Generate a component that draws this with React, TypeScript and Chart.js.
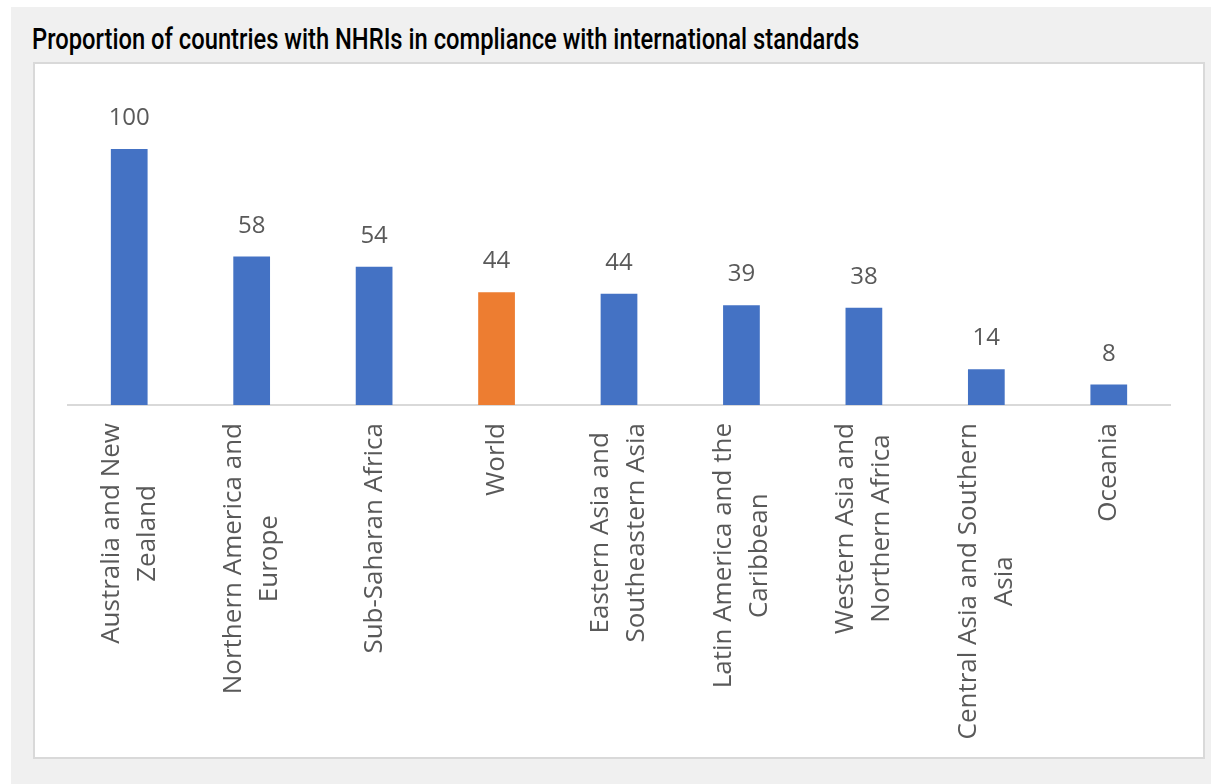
import React, { useEffect, useLayoutEffect, useRef, useState } from "react";
import { Chart, registerables } from "chart.js";

Chart.register(...registerables);

const TITLE = "Proportion of countries with NHRIs in compliance with international standards";

const categories: string[][] = [
  ["Australia and New", "Zealand"],
  ["Northern America and", "Europe"],
  ["Sub-Saharan Africa"],
  ["World"],
  ["Eastern Asia and", "Southeastern Asia"],
  ["Latin America and the", "Caribbean"],
  ["Western Asia and", "Northern Africa"],
  ["Central Asia and Southern", "Asia"],
  ["Oceania"],
];

const values: number[] = [100, 58, 54, 44, 43.5, 39, 38, 14, 8];

const highlightIndex = 3;
const BLUE = "#4472C4";
const ORANGE = "#ED7D31";
const TEXT_GRAY = "#595959";

const labelPlugin = {
  id: "customLabels",
  afterDraw(chart: any) {
    const ctx = chart.ctx;
    const meta = chart.getDatasetMeta(0);
    const xScale = chart.scales.x;
    ctx.save();
    // value labels
    ctx.fillStyle = TEXT_GRAY;
    ctx.font = "24px 'Open Sans'";
    ctx.textAlign = "center";
    ctx.textBaseline = "alphabetic";
    meta.data.forEach((bar: any, i: number) => {
      const v = chart.data.datasets[0].data[i] as number;
      ctx.fillText(String(Math.round(v)), bar.x, bar.y - 24);
    });
    // category labels, rotated, lines centred on each other
    ctx.font = "26px 'Open Sans'";
    const lineGap = 36;
    const top = xScale.bottom + 18;
    categories.forEach((lines, i) => {
      const cx = xScale.getPixelForValue(i);
      const maxW = Math.max(...lines.map((l) => ctx.measureText(l).width));
      lines.forEach((line, j) => {
        const lx = cx + (j - (lines.length - 1) / 2) * lineGap;
        ctx.save();
        ctx.translate(lx, top + maxW / 2);
        ctx.rotate(-Math.PI / 2);
        ctx.textAlign = "center";
        ctx.textBaseline = "middle";
        ctx.fillText(line, 0, 0);
        ctx.restore();
      });
    });
    ctx.restore();
  },
};

function ChartBox() {
  const ref = useRef<HTMLCanvasElement | null>(null);
  useEffect(() => {
    if (!ref.current) return;
    const chart = new Chart(ref.current, {
      type: "bar",
      data: {
        labels: categories.map((c) => c.join(" ")),
        datasets: [
          {
            data: values,
            backgroundColor: values.map((_, i) => (i === highlightIndex ? ORANGE : BLUE)),
            barPercentage: 0.3,
            categoryPercentage: 1,
          },
        ],
      },
      options: {
        animation: false,
        responsive: false,
        layout: { padding: { left: 33, right: 33, top: 85, bottom: 352 } },
        plugins: { legend: { display: false }, tooltip: { enabled: false }, title: { display: false } },
        scales: {
          x: {
            grid: { display: false, drawTicks: false },
            border: { display: true, color: "#D9D9D9", width: 2 },
            ticks: { display: false },
          },
          y: { display: false, min: 0, max: 100 },
        },
      },
      plugins: [labelPlugin],
    });
    return () => chart.destroy();
  }, []);
  return <canvas ref={ref} width={1168} height={693} style={{ display: "block", width: 1168, height: 693 }} />;
}

export default function App() {
  const titleRef = useRef<HTMLSpanElement | null>(null);
  const [scale, setScale] = useState(1);
  useLayoutEffect(() => {
    if (titleRef.current) {
      const w = titleRef.current.offsetWidth;
      if (w > 0) setScale(827 / w);
    }
  }, []);
  return (
    <div>
      <div style={{ position: "fixed", left: 11, top: 7, right: 0, bottom: 0, background: "#F0F0F0" }} />
      <div
        style={{
          position: "fixed",
          left: 32,
          top: 25,
          fontFamily: "Roboto",
          fontWeight: 500,
          fontSize: 29,
          lineHeight: "29px",
          color: "#000",
          whiteSpace: "nowrap",
        }}
      >
        <span
          ref={titleRef}
          style={{ display: "inline-block", transform: `scaleX(${scale})`, transformOrigin: "left center" }}
        >
          {TITLE}
        </span>
      </div>
      <div
        style={{
          position: "fixed",
          left: 33,
          top: 62,
          width: 1172,
          height: 697,
          boxSizing: "border-box",
          border: "2px solid #D9D9D9",
          background: "#FFFFFF",
        }}
      >
        <ChartBox />
      </div>
    </div>
  );
}
